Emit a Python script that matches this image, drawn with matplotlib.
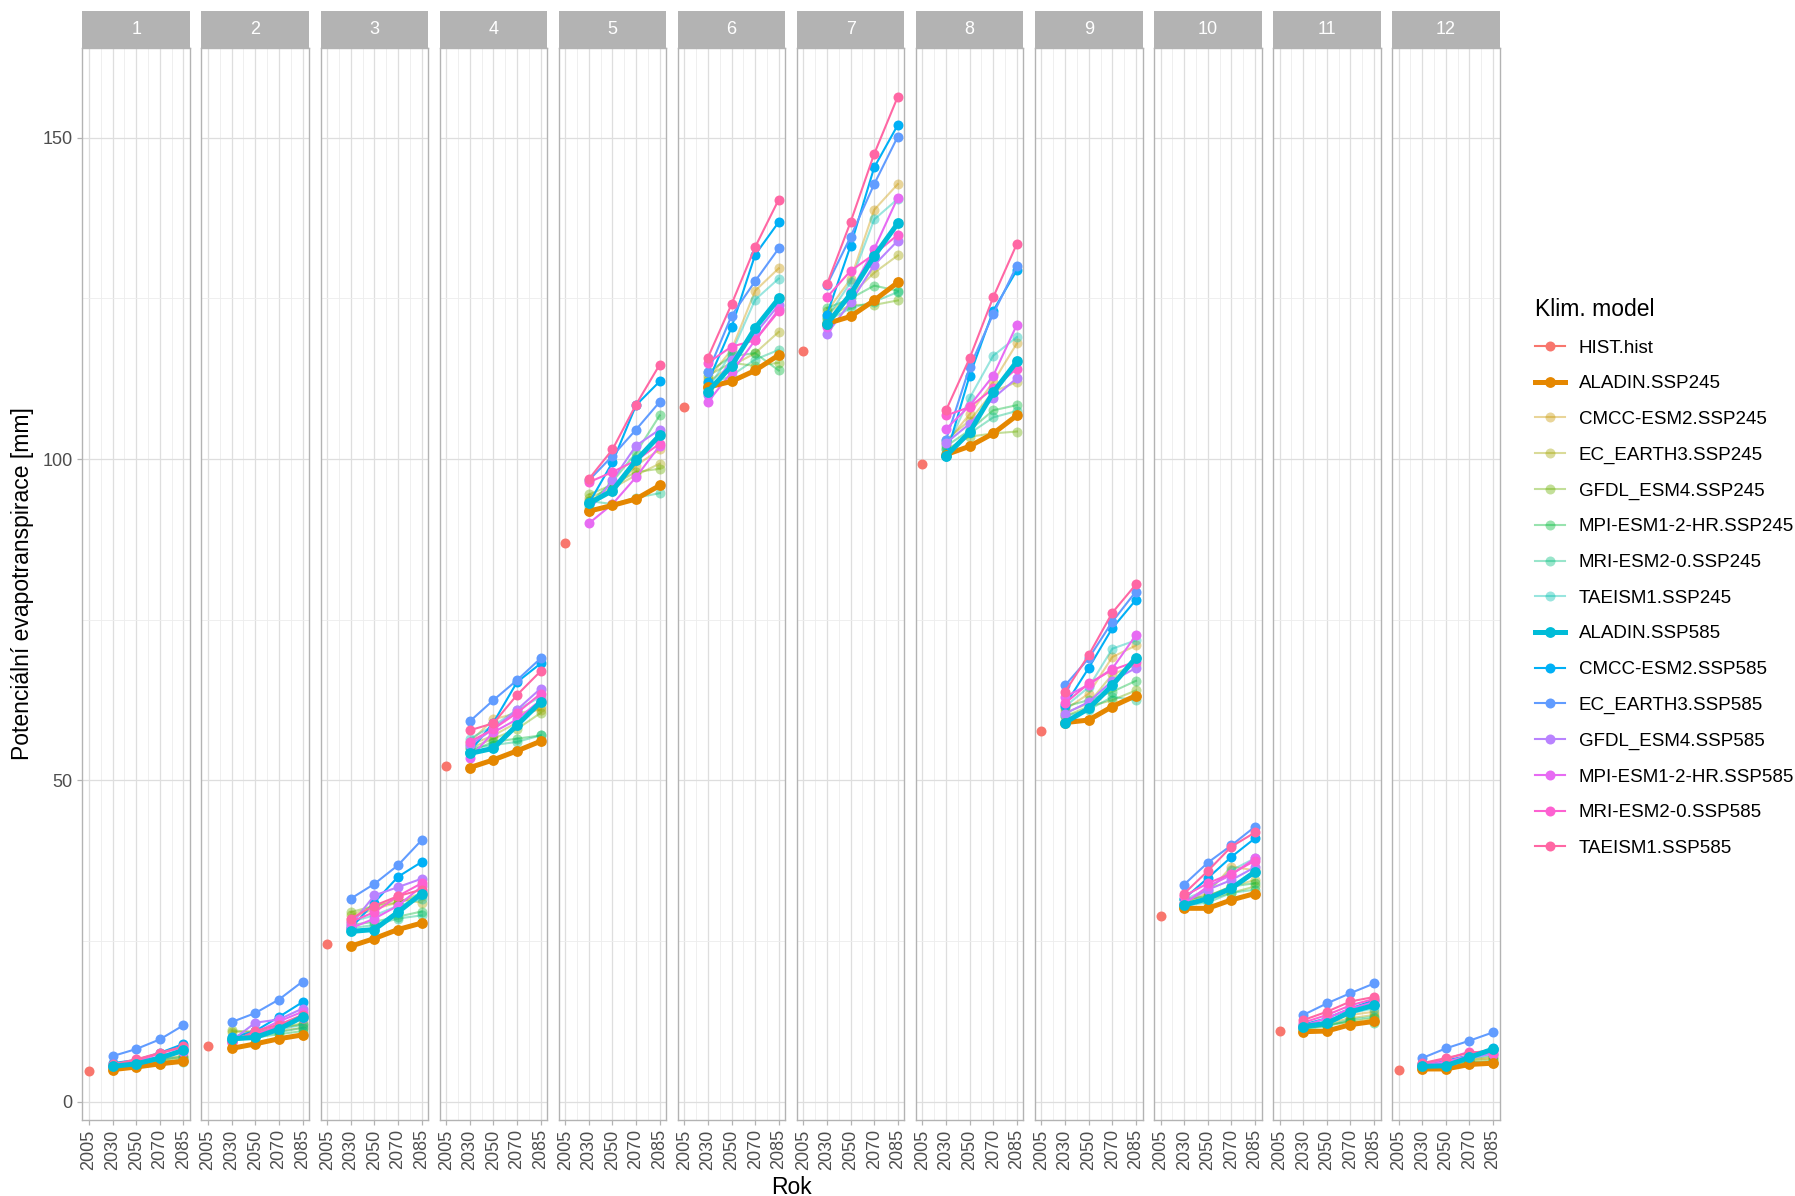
import matplotlib.pyplot as plt
from matplotlib.lines import Line2D

plt.rcParams['font.family'] = ['Liberation Sans', 'DejaVu Sans']

months = [str(m) for m in range(1, 13)]
years = ["2005", "2030", "2050", "2070", "2085"]

# historical reference (2005), one value per month
hist = [4.8, 8.7, 24.5, 52.3, 87.0, 108.1, 116.9, 99.2, 57.7, 28.9, 11.0, 4.9]

# scenario values per month for 2030, 2050, 2070, 2085
aladin_245 = [[5.0, 5.4, 5.9, 6.3], [8.3, 9.0, 9.8, 10.4], [24.2, 25.4, 26.8, 27.8],
              [52.0, 53.2, 54.6, 56.1], [91.9, 92.8, 93.8, 95.9], [111.2, 112.1, 113.8, 116.2],
              [121.1, 122.2, 124.7, 127.5], [100.7, 102.0, 104.0, 106.8], [59.0, 59.4, 61.5, 63.2],
              [30.1, 30.1, 31.4, 32.4], [10.9, 11.0, 12.0, 12.5], [5.1, 5.1, 5.8, 6.0]]
cmcc_245 = [[5.5, 6.0, 6.5, 7.0], [10.0, 10.5, 11.0, 11.5], [28.5, 30.0, 31.0, 32.0],
            [56.0, 59.5, 60.5, 61.0], [93.5, 95.0, 99.0, 101.5], [112.5, 117.0, 126.2, 129.7],
            [123.0, 128.0, 138.8, 142.8], [102.5, 107.0, 112.0, 118.0], [61.0, 63.5, 69.2, 71.0],
            [31.0, 32.5, 36.6, 36.0], [11.5, 12.5, 13.5, 14.0], [5.6, 6.0, 6.5, 6.8]]
ecearth_245 = [[5.6, 6.0, 6.6, 7.2], [10.8, 11.0, 11.5, 12.0], [29.0, 30.5, 31.5, 31.0],
               [55.5, 57.0, 59.0, 61.5], [94.0, 95.5, 97.5, 99.3], [112.0, 114.5, 116.5, 119.8],
               [122.5, 125.5, 129.0, 131.7], [103.0, 106.0, 110.5, 112.0], [60.5, 62.0, 66.5, 68.0],
               [31.0, 32.0, 33.5, 34.5], [11.8, 12.2, 13.0, 13.5], [5.8, 6.2, 6.6, 7.0]]
gfdl_245 = [[5.4, 5.9, 6.3, 6.8], [11.1, 10.8, 11.5, 12.2], [29.5, 30.5, 31.0, 32.5],
            [55.0, 56.5, 58.0, 60.5], [94.5, 96.0, 98.0, 98.5], [113.0, 115.0, 114.5, 115.0],
            [122.0, 124.0, 124.0, 124.7], [101.5, 103.5, 104.0, 104.3], [60.0, 61.5, 62.5, 64.0],
            [30.5, 31.5, 32.5, 33.5], [11.3, 12.0, 12.5, 13.0], [5.5, 5.9, 6.3, 6.6]]
mpi_245 = [[5.3, 5.7, 6.1, 6.5], [9.5, 10.0, 10.5, 11.0], [27.5, 28.0, 28.8, 29.6],
           [54.5, 56.0, 56.5, 57.0], [93.0, 96.5, 101.0, 106.8], [113.5, 116.0, 116.5, 113.8],
           [123.5, 125.0, 127.0, 126.2], [102.0, 104.5, 107.6, 108.4], [61.5, 62.5, 63.8, 65.5],
           [31.5, 32.0, 33.5, 34.0], [11.5, 11.8, 12.5, 12.2], [5.4, 5.8, 6.2, 6.0]]
mri_245 = [[5.5, 5.9, 5.8, 6.2], [9.8, 10.2, 10.8, 11.5], [27.0, 27.5, 28.5, 29.0],
           [55.0, 55.5, 56.0, 57.0], [93.5, 93.0, 94.0, 94.7], [111.5, 113.0, 115.5, 117.0],
           [121.5, 123.5, 124.5, 126.0], [101.0, 104.0, 106.5, 107.5], [60.0, 61.0, 63.0, 62.5],
           [30.5, 31.0, 32.5, 33.0], [11.2, 11.8, 12.8, 13.2], [5.3, 5.7, 6.0, 6.3]]
taeism_245 = [[5.6, 6.1, 6.6, 7.0], [9.6, 10.3, 11.2, 12.0], [28.0, 29.0, 30.5, 31.5],
              [56.5, 58.5, 61.0, 63.0], [92.5, 95.5, 100.0, 104.0], [111.0, 116.5, 124.8, 128.1],
              [122.0, 127.5, 137.3, 140.5], [101.5, 109.5, 116.1, 119.0], [61.5, 64.5, 70.5, 71.8],
              [31.5, 33.0, 36.0, 37.9], [11.6, 12.5, 13.8, 14.5], [5.7, 6.1, 6.8, 7.2]]
aladin_585 = [[5.5, 5.9, 6.8, 8.0], [9.8, 10.0, 11.3, 13.2], [26.5, 26.8, 29.5, 32.4],
              [54.2, 55.0, 58.6, 62.2], [93.1, 95.1, 99.8, 103.7], [110.5, 114.5, 120.4, 125.0],
              [121.0, 125.7, 131.6, 136.7], [100.5, 104.2, 110.4, 115.2], [59.0, 61.2, 64.8, 69.1],
              [30.6, 31.6, 33.2, 35.8], [11.7, 12.2, 14.0, 15.0], [5.5, 5.6, 6.9, 8.2]]
cmcc_585 = [[6.0, 6.5, 7.6, 9.0], [10.0, 11.0, 13.2, 15.5], [27.0, 31.0, 35.0, 37.3],
            [54.5, 59.0, 65.3, 68.2], [93.1, 99.5, 108.4, 112.1], [112.0, 120.5, 131.8, 136.9],
            [122.5, 133.2, 145.4, 152.0], [100.5, 113.0, 123.1, 129.4], [61.7, 67.5, 73.7, 78.1],
            [31.6, 34.8, 38.1, 41.0], [12.0, 13.0, 14.5, 15.8], [5.9, 6.4, 7.2, 8.3]]
ecearth_585 = [[7.1, 8.2, 9.7, 11.9], [12.4, 13.8, 15.9, 18.7], [31.6, 33.9, 36.8, 40.7],
               [59.2, 62.5, 65.6, 69.0], [96.7, 100.5, 104.6, 108.9], [113.5, 122.3, 127.7, 132.8],
               [127.1, 134.6, 142.8, 150.2], [103.0, 114.3, 122.6, 130.1], [64.8, 69.0, 74.7, 79.4],
               [33.8, 37.2, 39.9, 42.8], [13.5, 15.3, 16.9, 18.4], [6.8, 8.3, 9.5, 10.8]]
gfdl_585 = [[5.6, 6.2, 7.0, 8.2], [9.5, 12.3, 12.8, 14.5], [27.5, 32.1, 33.4, 34.7],
            [55.5, 58.0, 61.0, 64.3], [92.0, 96.7, 102.1, 104.6], [110.0, 115.5, 119.5, 124.0],
            [119.5, 124.4, 130.2, 134.0], [102.5, 105.5, 109.5, 112.6], [60.4, 62.2, 65.5, 67.5],
            [31.0, 33.0, 34.5, 36.5], [11.5, 12.5, 14.0, 15.0], [5.4, 6.0, 6.8, 7.5]]
mpi_585 = [[5.4, 6.0, 7.0, 7.8], [9.2, 10.8, 12.5, 14.0], [27.0, 28.5, 30.5, 33.5],
           [53.5, 57.5, 59.5, 62.5], [90.0, 93.0, 97.2, 102.1], [108.9, 113.5, 118.5, 123.3],
           [120.5, 126.0, 132.7, 140.7], [104.7, 108.3, 113.0, 120.9], [63.0, 64.9, 67.4, 72.6],
           [30.8, 33.5, 35.3, 37.9], [11.8, 13.0, 14.5, 15.5], [5.6, 6.2, 7.2, 7.9]]
mri_585 = [[5.7, 6.3, 7.5, 8.5], [9.4, 10.5, 11.8, 13.0], [28.0, 29.5, 32.0, 34.0],
           [56.0, 58.0, 60.5, 63.5], [96.4, 98.0, 99.8, 102.4], [115.0, 117.5, 118.5, 123.0],
           [125.2, 129.3, 131.9, 134.9], [106.8, 108.1, 111.0, 114.1], [62.0, 65.1, 67.2, 68.5],
           [32.0, 34.0, 35.5, 37.5], [12.3, 13.5, 15.0, 16.0], [5.8, 6.6, 7.8, 7.5]]
taeism_585 = [[5.8, 6.6, 7.6, 8.6], [9.3, 11.0, 12.0, 13.5], [28.5, 30.5, 32.0, 33.0],
              [57.8, 58.9, 63.3, 67.0], [96.9, 101.5, 108.5, 114.7], [115.8, 124.1, 133.0, 140.4],
              [127.2, 136.9, 147.5, 156.4], [107.6, 115.7, 125.2, 133.5], [63.8, 69.5, 76.1, 80.5],
              [32.4, 35.9, 39.7, 41.9], [12.7, 14.0, 15.6, 16.3], [6.0, 6.8, 7.6, 8.0]]

# name, values, colour, alpha, thick
models = [
    ("ALADIN.SSP245", aladin_245, "#E58700", 1.0, True),
    ("CMCC-ESM2.SSP245", cmcc_245, "#C99800", 0.4, False),
    ("EC_EARTH3.SSP245", ecearth_245, "#A3A500", 0.4, False),
    ("GFDL_ESM4.SSP245", gfdl_245, "#6BB100", 0.4, False),
    ("MPI-ESM1-2-HR.SSP245", mpi_245, "#00BA38", 0.4, False),
    ("MRI-ESM2-0.SSP245", mri_245, "#00BF7D", 0.4, False),
    ("TAEISM1.SSP245", taeism_245, "#00C0AF", 0.4, False),
    ("ALADIN.SSP585", aladin_585, "#00BCD8", 1.0, True),
    ("CMCC-ESM2.SSP585", cmcc_585, "#00B0F6", 1.0, False),
    ("EC_EARTH3.SSP585", ecearth_585, "#619CFF", 1.0, False),
    ("GFDL_ESM4.SSP585", gfdl_585, "#B983FF", 1.0, False),
    ("MPI-ESM1-2-HR.SSP585", mpi_585, "#E76BF3", 1.0, False),
    ("MRI-ESM2-0.SSP585", mri_585, "#FD61D1", 1.0, False),
    ("TAEISM1.SSP585", taeism_585, "#FF67A4", 1.0, False),
]
hist_color = "#F8766D"

W, H = 1795, 1196
fig = plt.figure(figsize=(W / 100, H / 100), dpi=100)

x_left, x_right = 82.4, 1499.7
gap = 11.4
pw = (x_right - x_left - 11 * gap) / 12
p_top, p_bot = 48.0, 1119.6
s_top = 11.4

all_vals = hist + [v for _, d, _, _, _ in models for row in d for v in row]
lo, hi = min(all_vals), max(all_vals)
pad = (hi - lo) * 0.05
ylim = (lo - pad, hi + pad)

xpos = [1, 2, 3, 4, 5]
ms_thin, ms_thick = 7.2, 7.8
lw_thin, lw_thick = 1.5, 3.6

for i, m in enumerate(months):
    left = (x_left + i * (pw + gap)) / W
    ax = fig.add_axes([left, 1 - p_bot / H, pw / W, (p_bot - p_top) / H])
    ax.set_xlim(0.72, 5.28)
    ax.set_ylim(*ylim)
    ax.set_xticks(xpos)
    ax.set_xticklabels(years, rotation=90)
    ax.set_xticks([1.5, 2.5, 3.5, 4.5], minor=True)
    ax.set_yticks([0, 50, 100, 150])
    ax.set_yticks([25, 75, 125], minor=True)
    ax.grid(which='major', color='#DEDEDE', lw=0.9)
    ax.grid(which='minor', color='#EDEDED', lw=0.6)
    ax.set_axisbelow(True)
    for sp in ax.spines.values():
        sp.set_color('#B3B3B3')
        sp.set_linewidth(1.0)
    ax.tick_params(which='major', length=3.5, color='#B3B3B3', labelcolor='#4D4D4D',
                   labelsize=13, width=0.9)
    ax.tick_params(which='minor', length=0)
    if i > 0:
        ax.tick_params(axis='y', length=0, labelleft=False)

    for name, data, col, alpha, thick in models:
        if thick:
            continue
        ax.plot(xpos[1:], data[i], color=col, alpha=alpha, lw=lw_thin, marker='o',
                ms=ms_thin, markeredgewidth=0)
    for name, data, col, alpha, thick in models:
        if thick:
            ax.plot(xpos[1:], data[i], color=col, alpha=alpha, lw=lw_thick, marker='o',
                    ms=ms_thick, markeredgewidth=0)
    ax.plot([xpos[0]], [hist[i]], color=hist_color, marker='o', ms=ms_thin,
            markeredgewidth=0, lw=0)

    sax = fig.add_axes([left, 1 - p_top / H, pw / W, (p_top - s_top) / H])
    sax.set_facecolor('#B3B3B3')
    sax.set_xticks([])
    sax.set_yticks([])
    for sp in sax.spines.values():
        sp.set_visible(False)
    sax.text(0.5, 0.5, m, color='white', fontsize=13, ha='center', va='center',
             transform=sax.transAxes)

fig.text(23 / W, 1 - ((p_top + p_bot) / 2) / H, "Potenciální evapotranspirace [mm]",
         rotation=90, ha='center', va='center', fontsize=16.5)
fig.text(((x_left + x_right) / 2) / W, 1 - 1187 / H, "Rok", ha='center', va='center',
         fontsize=16.5)

handles = [Line2D([], [], color=hist_color, lw=lw_thin, marker='o', ms=ms_thin,
                  markeredgewidth=0)]
labels = ["HIST.hist"]
for name, data, col, alpha, thick in models:
    handles.append(Line2D([], [], color=col, alpha=alpha, lw=lw_thick if thick else lw_thin,
                          marker='o', ms=ms_thick if thick else ms_thin, markeredgewidth=0))
    labels.append(name)

leg = fig.legend(handles, labels, title="Klim. model", loc='upper left',
                 bbox_to_anchor=(1518 / W, 1 - 281 / H), frameon=False, fontsize=13.5,
                 title_fontsize=16.5, labelspacing=0.99, handlelength=1.6,
                 handletextpad=0.75, alignment='left')

fig.savefig("out.png", dpi=100)
